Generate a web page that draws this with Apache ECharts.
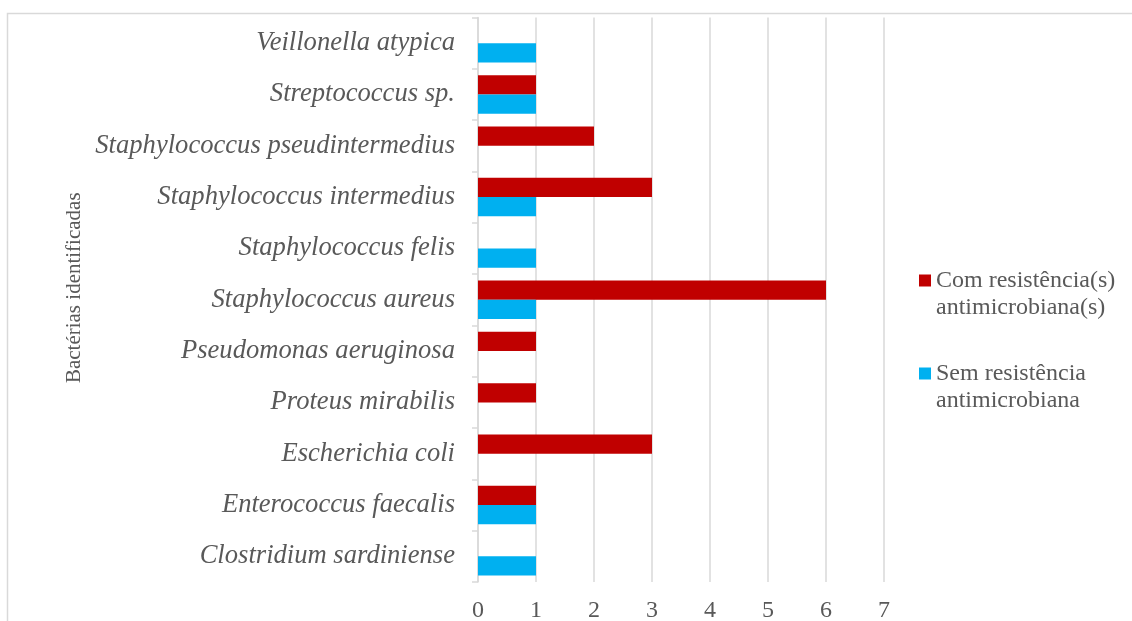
<!DOCTYPE html>
<html>
<head>
<meta charset="utf-8">
<script src="https://cdn.jsdelivr.net/npm/echarts@6/dist/echarts.min.js"></script>
<style>
  html, body { margin: 0; padding: 0; background: #ffffff; }
  #chart { width: 1132px; height: 621px; }
</style>
</head>
<body>
<div id="chart"></div>
<script>
// Bacteria identified (bottom to top on the category axis)
const categories = [
  'Clostridium sardiniense',
  'Enterococcus faecalis',
  'Escherichia coli',
  'Proteus mirabilis',
  'Pseudomonas aeruginosa',
  'Staphylococcus aureus',
  'Staphylococcus felis',
  'Staphylococcus intermedius',
  'Staphylococcus pseudintermedius',
  'Streptococcus sp.',
  'Veillonella atypica'
];

// Isolates with antimicrobial resistance
const comResistencia = [0, 1, 3, 1, 1, 6, 0, 3, 2, 1, 0];
// Isolates without antimicrobial resistance
const semResistencia = [1, 1, 0, 0, 0, 1, 1, 1, 0, 1, 1];

const seriesNames = ['Com resistência(s)\nantimicrobiana(s)', 'Sem resistência\nantimicrobiana'];
const xTicks = { min: 0, max: 7, interval: 1 };

const FONT = '"Liberation Serif", "Times New Roman", serif';
const GREY = '#595959';
const LINE = '#d9d9d9';

const chart = echarts.init(document.getElementById('chart'), null, { renderer: 'canvas' });

chart.setOption({
  backgroundColor: '#ffffff',
  animation: false,
  graphic: [{
    type: 'rect',
    silent: true,
    z: -10,
    shape: { x: 7.5, y: 13.5, width: 1140, height: 700 },
    style: { fill: 'none', stroke: LINE, lineWidth: 1.5 }
  }],
  grid: {
    left: 478, right: 248, top: 17.5, bottom: 39,
    containLabel: false,
    outerBoundsMode: 'none'
  },
  legend: {
    orient: 'vertical',
    left: 919,
    top: 240,
    padding: 0,
    itemWidth: 12,
    itemHeight: 12,
    itemGap: 12,
    icon: 'rect',
    data: seriesNames,
    // leading blank line keeps the marker level with the first text line
    formatter: name => '\n' + name,
    textStyle: {
      fontFamily: FONT,
      fontSize: 24,
      color: GREY,
      lineHeight: 27
    }
  },
  xAxis: {
    type: 'value',
    min: xTicks.min,
    max: xTicks.max,
    interval: xTicks.interval,
    axisLine: { show: false },
    axisTick: { show: false },
    axisLabel: { fontFamily: FONT, fontSize: 24, color: GREY, margin: 17 },
    splitLine: { show: true, lineStyle: { color: LINE, width: 1.5 } }
  },
  yAxis: {
    type: 'category',
    data: categories,
    name: 'Bactérias identificadas',
    nameLocation: 'middle',
    nameRotate: 90,
    nameGap: 393,
    nameTextStyle: { fontFamily: FONT, fontSize: 21, color: GREY, padding: [0, 0, 0, 24] },
    axisLine: { show: true, lineStyle: { color: LINE, width: 1.5 } },
    axisTick: { show: true, length: 6, lineStyle: { color: LINE, width: 1.5 } },
    axisLabel: {
      fontFamily: FONT, fontSize: 26.6, fontStyle: 'italic', color: GREY,
      margin: 23, padding: [4, 0, 0, 0]
    }
  },
  series: [
    {
      name: seriesNames[0],
      type: 'bar',
      data: comResistencia,
      itemStyle: { color: '#C00000' },
      barGap: '0%',
      barCategoryGap: '25%'
    },
    {
      name: seriesNames[1],
      type: 'bar',
      data: semResistencia,
      itemStyle: { color: '#00B0F0' },
      barGap: '0%',
      barCategoryGap: '25%'
    }
  ]
});
</script>
</body>
</html>
